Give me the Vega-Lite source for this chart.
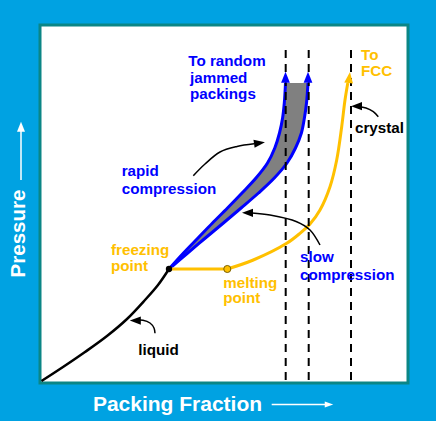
{
  "$schema": "https://vega.github.io/schema/vega-lite/v6.json",
  "width": 368,
  "height": 358,
  "autosize": {"type": "none"},
  "padding": {"left": 40, "top": 25, "right": 28, "bottom": 38},
  "background": "#00a2e2",
  "config": {"font": "Liberation Sans", "view": {"fill": "#ffffff", "stroke": "#0b8686", "strokeWidth": 3}},
  "datasets": {
    "band": [
      {"y": 114, "xl": 129, "xr": 129},
      {"y": 130, "xl": 143.5, "xr": 147.7},
      {"y": 145, "xl": 158, "xr": 165.4},
      {"y": 160, "xl": 172.5, "xr": 183.4},
      {"y": 175, "xl": 187.5, "xr": 201.1},
      {"y": 190, "xl": 202, "xr": 218.5},
      {"y": 205, "xl": 216, "xr": 234.3},
      {"y": 220, "xl": 227.5, "xr": 247},
      {"y": 235, "xl": 234.8, "xr": 255.5},
      {"y": 250, "xl": 239.5, "xr": 261.4},
      {"y": 265, "xl": 242.6, "xr": 264.4},
      {"y": 280, "xl": 244.3, "xr": 266.5},
      {"y": 300, "xl": 245.5, "xr": 268}
    ],
    "liquid": [
      {"i": 0, "x": 1.5, "y": 2},
      {"i": 1, "x": 23, "y": 16},
      {"i": 2, "x": 45, "y": 31},
      {"i": 3, "x": 67, "y": 47},
      {"i": 4, "x": 87, "y": 64},
      {"i": 5, "x": 105, "y": 83},
      {"i": 6, "x": 118, "y": 98},
      {"i": 7, "x": 129, "y": 114}
    ],
    "yellow": [
      {"seg": "flat", "i": 0, "x": 129, "y": 114},
      {"seg": "flat", "i": 1, "x": 187.3, "y": 114},
      {"seg": "rise", "i": 0, "x": 187.3, "y": 114},
      {"seg": "rise", "i": 1, "x": 213.3, "y": 123},
      {"seg": "rise", "i": 2, "x": 246.7, "y": 139.7},
      {"seg": "rise", "i": 3, "x": 260, "y": 149.7},
      {"seg": "rise", "i": 4, "x": 270, "y": 159},
      {"seg": "rise", "i": 5, "x": 280, "y": 173},
      {"seg": "rise", "i": 6, "x": 290, "y": 196.3},
      {"seg": "rise", "i": 7, "x": 296.7, "y": 223},
      {"seg": "rise", "i": 8, "x": 301.7, "y": 256.3},
      {"seg": "rise", "i": 9, "x": 305, "y": 283},
      {"seg": "rise", "i": 10, "x": 307.8, "y": 300}
    ],
    "dashes": [{"x": 245.7}, {"x": 268.7}, {"x": 311}],
    "ann": [
      {"id": "liquid", "i": 0, "x": 115, "y": 49.7},
      {"id": "liquid", "i": 1, "x": 114, "y": 55},
      {"id": "liquid", "i": 2, "x": 110, "y": 60},
      {"id": "liquid", "i": 3, "x": 103, "y": 62.7},
      {"id": "liquid", "i": 4, "x": 96, "y": 62.7},
      {"id": "rapid", "i": 0, "x": 153.3, "y": 207.3},
      {"id": "rapid", "i": 1, "x": 165, "y": 219},
      {"id": "rapid", "i": 2, "x": 180, "y": 231},
      {"id": "rapid", "i": 3, "x": 197, "y": 236.5},
      {"id": "rapid", "i": 4, "x": 214, "y": 239.2},
      {"id": "slow", "i": 0, "x": 280, "y": 138},
      {"id": "slow", "i": 1, "x": 270, "y": 153},
      {"id": "slow", "i": 2, "x": 256.7, "y": 161.3},
      {"id": "slow", "i": 3, "x": 230, "y": 168},
      {"id": "slow", "i": 4, "x": 212, "y": 170},
      {"id": "crystal", "i": 0, "x": 338.3, "y": 266.3},
      {"id": "crystal", "i": 1, "x": 333.3, "y": 271.3},
      {"id": "crystal", "i": 2, "x": 326, "y": 275},
      {"id": "crystal", "i": 3, "x": 318, "y": 276.5}
    ],
    "labels": [
      {"text": "To random", "x": 148.3, "y": 317.3, "kind": "glass"},
      {"text": "jammed", "x": 150, "y": 300.5, "kind": "glass"},
      {"text": "packings", "x": 150, "y": 283.7, "kind": "glass"},
      {"text": "To", "x": 321, "y": 323, "kind": "crystal"},
      {"text": "FCC", "x": 321, "y": 307, "kind": "crystal"},
      {"text": "crystal", "x": 315, "y": 249.7, "kind": "note"},
      {"text": "rapid", "x": 81.7, "y": 207, "kind": "glass"},
      {"text": "compression", "x": 81.7, "y": 189, "kind": "glass"},
      {"text": "freezing", "x": 71, "y": 127.7, "kind": "crystal"},
      {"text": "point", "x": 71, "y": 111.7, "kind": "crystal"},
      {"text": "melting", "x": 183.3, "y": 95.5, "kind": "crystal"},
      {"text": "point", "x": 183.3, "y": 79.7, "kind": "crystal"},
      {"text": "slow", "x": 260, "y": 121.3, "kind": "glass"},
      {"text": "compression", "x": 260, "y": 103, "kind": "glass"},
      {"text": "liquid", "x": 98.3, "y": 28, "kind": "note"}
    ]
  },
  "layer": [
    {
      "data": {"name": "band"},
      "mark": {"type": "area", "orient": "horizontal", "color": "#808080", "interpolate": "catmull-rom"},
      "encoding": {
        "y": {"field": "y", "type": "quantitative", "scale": {"domain": [0, 358], "nice": false, "zero": false}, "axis": null},
        "x": {"field": "xl", "type": "quantitative", "scale": {"domain": [0, 368], "nice": false, "zero": false}, "axis": null},
        "x2": {"field": "xr"}
      }
    },
    {
      "data": {"name": "band"},
      "mark": {"type": "line", "color": "#0000ff", "strokeWidth": 3, "interpolate": "catmull-rom"},
      "encoding": {
        "x": {"field": "xl", "type": "quantitative", "scale": {"domain": [0, 368], "nice": false, "zero": false}, "axis": null},
        "y": {"field": "y", "type": "quantitative", "scale": {"domain": [0, 358], "nice": false, "zero": false}, "axis": null},
        "order": {"field": "y"}
      }
    },
    {
      "data": {"name": "band"},
      "mark": {"type": "line", "color": "#0000ff", "strokeWidth": 3, "interpolate": "catmull-rom"},
      "encoding": {
        "x": {"field": "xr", "type": "quantitative", "scale": {"domain": [0, 368], "nice": false, "zero": false}, "axis": null},
        "y": {"field": "y", "type": "quantitative", "scale": {"domain": [0, 358], "nice": false, "zero": false}, "axis": null},
        "order": {"field": "y"}
      }
    },
    {
      "data": {"name": "liquid"},
      "mark": {"type": "line", "color": "#000000", "strokeWidth": 2.5, "interpolate": "catmull-rom"},
      "encoding": {
        "x": {"field": "x", "type": "quantitative", "scale": {"domain": [0, 368], "nice": false, "zero": false}, "axis": null},
        "y": {"field": "y", "type": "quantitative", "scale": {"domain": [0, 358], "nice": false, "zero": false}, "axis": null},
        "order": {"field": "i"}
      }
    },
    {
      "data": {"name": "yellow"},
      "mark": {"type": "line", "color": "#ffc000", "strokeWidth": 3, "interpolate": "catmull-rom"},
      "encoding": {
        "x": {"field": "x", "type": "quantitative", "scale": {"domain": [0, 368], "nice": false, "zero": false}, "axis": null},
        "y": {"field": "y", "type": "quantitative", "scale": {"domain": [0, 358], "nice": false, "zero": false}, "axis": null},
        "detail": {"field": "seg"},
        "order": {"field": "i"}
      }
    },
    {
      "data": {"name": "dashes"},
      "mark": {"type": "rule", "color": "#000000", "strokeWidth": 2, "strokeDash": [8, 6]},
      "encoding": {
        "x": {"field": "x", "type": "quantitative", "scale": {"domain": [0, 368], "nice": false, "zero": false}, "axis": null},
        "y": {"datum": 333, "type": "quantitative", "scale": {"domain": [0, 358], "nice": false, "zero": false}, "axis": null},
        "y2": {"datum": 0}
      }
    },
    {
      "data": {"name": "ann"},
      "mark": {"type": "line", "color": "#000000", "strokeWidth": 1.5, "interpolate": "catmull-rom"},
      "encoding": {
        "x": {"field": "x", "type": "quantitative", "scale": {"domain": [0, 368], "nice": false, "zero": false}, "axis": null},
        "y": {"field": "y", "type": "quantitative", "scale": {"domain": [0, 358], "nice": false, "zero": false}, "axis": null},
        "detail": {"field": "id"},
        "order": {"field": "i"}
      }
    },
    {
      "data": {"values": [{"x": 245.5, "y": 305.8}, {"x": 268, "y": 305.8}]},
      "mark": {"type": "point", "shape": "M0,-1L0.8,1L-0.8,1Z", "filled": true, "color": "#0000ff", "opacity": 1, "size": 121},
      "encoding": {
        "x": {"field": "x", "type": "quantitative", "scale": {"domain": [0, 368], "nice": false, "zero": false}, "axis": null},
        "y": {"field": "y", "type": "quantitative", "scale": {"domain": [0, 358], "nice": false, "zero": false}, "axis": null}
      }
    },
    {
      "data": {"values": [{"x": 309.3, "y": 305.5}]},
      "mark": {"type": "point", "shape": "M0,-1L0.8,1L-0.8,1Z", "filled": true, "color": "#ffc000", "opacity": 1, "size": 121, "angle": 7},
      "encoding": {
        "x": {"field": "x", "type": "quantitative", "scale": {"domain": [0, 368], "nice": false, "zero": false}, "axis": null},
        "y": {"field": "y", "type": "quantitative", "scale": {"domain": [0, 358], "nice": false, "zero": false}, "axis": null}
      }
    },
    {
      "data": {"values": [{"x": 95.3, "y": 62.5}, {"x": 207.5, "y": 170.2}, {"x": 316.5, "y": 276.8}]},
      "mark": {"type": "point", "shape": "M-1,0L1,-0.75L1,0.75Z", "filled": true, "color": "#000000", "opacity": 1, "size": 121},
      "encoding": {
        "x": {"field": "x", "type": "quantitative", "scale": {"domain": [0, 368], "nice": false, "zero": false}, "axis": null},
        "y": {"field": "y", "type": "quantitative", "scale": {"domain": [0, 358], "nice": false, "zero": false}, "axis": null}
      }
    },
    {
      "data": {"values": [{"x": 219.5, "y": 240}]},
      "mark": {"type": "point", "shape": "M1,0L-1,-0.75L-1,0.75Z", "filled": true, "color": "#000000", "opacity": 1, "size": 121, "angle": -8},
      "encoding": {
        "x": {"field": "x", "type": "quantitative", "scale": {"domain": [0, 368], "nice": false, "zero": false}, "axis": null},
        "y": {"field": "y", "type": "quantitative", "scale": {"domain": [0, 358], "nice": false, "zero": false}, "axis": null}
      }
    },
    {
      "data": {"values": [{"x": 129, "y": 114}]},
      "mark": {"type": "point", "shape": "circle", "filled": true, "color": "#000000", "opacity": 1, "size": 40},
      "encoding": {
        "x": {"field": "x", "type": "quantitative", "scale": {"domain": [0, 368], "nice": false, "zero": false}, "axis": null},
        "y": {"field": "y", "type": "quantitative", "scale": {"domain": [0, 358], "nice": false, "zero": false}, "axis": null}
      }
    },
    {
      "data": {"values": [{"x": 187.3, "y": 114}]},
      "mark": {"type": "point", "shape": "circle", "filled": true, "fill": "#ffc000", "stroke": "#7a6000", "strokeWidth": 1, "opacity": 1, "size": 50},
      "encoding": {
        "x": {"field": "x", "type": "quantitative", "scale": {"domain": [0, 368], "nice": false, "zero": false}, "axis": null},
        "y": {"field": "y", "type": "quantitative", "scale": {"domain": [0, 358], "nice": false, "zero": false}, "axis": null}
      }
    },
    {
      "data": {"name": "labels"},
      "mark": {"type": "text", "align": "left", "baseline": "alphabetic", "fontSize": 15.2, "fontWeight": "bold"},
      "encoding": {
        "x": {"field": "x", "type": "quantitative", "scale": {"domain": [0, 368], "nice": false, "zero": false}, "axis": null},
        "y": {"field": "y", "type": "quantitative", "scale": {"domain": [0, 358], "nice": false, "zero": false}, "axis": null},
        "text": {"field": "text"},
        "color": {"field": "kind", "type": "nominal", "scale": {"domain": ["glass", "crystal", "note"], "range": ["#0000ff", "#ffc000", "#000000"]}, "legend": null}
      }
    },
    {
      "data": {"values": [{"x": 137.5, "y": -27.5, "text": "Packing Fraction"}]},
      "mark": {"type": "text", "align": "center", "baseline": "alphabetic", "fontSize": 21, "fontWeight": "bold", "color": "#ffffff"},
      "encoding": {
        "x": {"field": "x", "type": "quantitative", "scale": {"domain": [0, 368], "nice": false, "zero": false}, "axis": null},
        "y": {"field": "y", "type": "quantitative", "scale": {"domain": [0, 358], "nice": false, "zero": false}, "axis": null},
        "text": {"field": "text"}
      }
    },
    {
      "data": {"values": [{"x": -15, "y": 149.5, "text": "Pressure"}]},
      "mark": {"type": "text", "align": "center", "baseline": "alphabetic", "fontSize": 20.5, "fontWeight": "bold", "color": "#ffffff", "angle": 270},
      "encoding": {
        "x": {"field": "x", "type": "quantitative", "scale": {"domain": [0, 368], "nice": false, "zero": false}, "axis": null},
        "y": {"field": "y", "type": "quantitative", "scale": {"domain": [0, 358], "nice": false, "zero": false}, "axis": null},
        "text": {"field": "text"}
      }
    },
    {
      "data": {"values": [{"x": -19, "y": 203, "y2": 253}]},
      "mark": {"type": "rule", "color": "#ffffff", "strokeWidth": 1.5},
      "encoding": {
        "x": {"field": "x", "type": "quantitative", "scale": {"domain": [0, 368], "nice": false, "zero": false}, "axis": null},
        "y": {"field": "y", "type": "quantitative", "scale": {"domain": [0, 358], "nice": false, "zero": false}, "axis": null},
        "y2": {"field": "y2"}
      }
    },
    {
      "data": {"values": [{"x": 231.7, "x2": 286, "y": -21.5}]},
      "mark": {"type": "rule", "color": "#ffffff", "strokeWidth": 1.5},
      "encoding": {
        "x": {"field": "x", "type": "quantitative", "scale": {"domain": [0, 368], "nice": false, "zero": false}, "axis": null},
        "x2": {"field": "x2"},
        "y": {"field": "y", "type": "quantitative", "scale": {"domain": [0, 358], "nice": false, "zero": false}, "axis": null}
      }
    },
    {
      "data": {"values": [{"x": -19, "y": 256.3}]},
      "mark": {"type": "point", "shape": "M0,-1L0.8,1L-0.8,1Z", "filled": true, "color": "#ffffff", "opacity": 1, "size": 100},
      "encoding": {
        "x": {"field": "x", "type": "quantitative", "scale": {"domain": [0, 368], "nice": false, "zero": false}, "axis": null},
        "y": {"field": "y", "type": "quantitative", "scale": {"domain": [0, 358], "nice": false, "zero": false}, "axis": null}
      }
    },
    {
      "data": {"values": [{"x": 289, "y": -21.5}]},
      "mark": {"type": "point", "shape": "M1,0L-1,-0.7L-1,0.7Z", "filled": true, "color": "#ffffff", "opacity": 1, "size": 72},
      "encoding": {
        "x": {"field": "x", "type": "quantitative", "scale": {"domain": [0, 368], "nice": false, "zero": false}, "axis": null},
        "y": {"field": "y", "type": "quantitative", "scale": {"domain": [0, 358], "nice": false, "zero": false}, "axis": null}
      }
    }
  ]
}
